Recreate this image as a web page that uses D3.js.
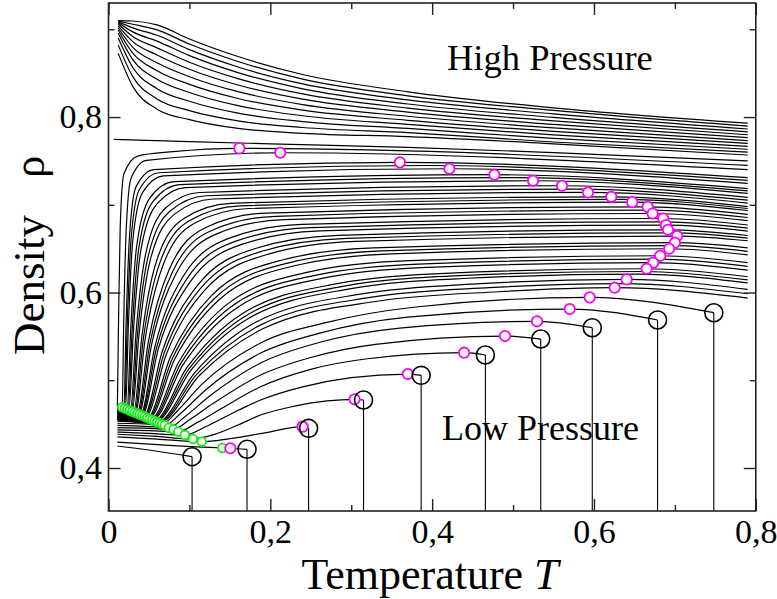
<!DOCTYPE html>
<html>
<head>
<meta charset="utf-8">
<script src="https://cdn.jsdelivr.net/npm/d3@7"></script>
<style>
  body { margin: 0; background: #fff; }
  svg { display: block; font-family: "Liberation Serif", "Times New Roman", serif; }
</style>
</head>
<body>
<svg id="chart" width="777" height="599"></svg>
<script>
//-----------------------------------------------------//
// Data

// Ticks
const xMajorTicks = [0, 0.2, 0.4, 0.6, 0.8];
const xMinorTicks = [0.1, 0.3, 0.5, 0.7];
const yMajorTicks = [0.4, 0.6, 0.8];
const yMinorTicks = [0.5, 0.7, 0.9];
const xTickLabels = ["0", "0,2", "0,4", "0,6", "0,8"];
const yTickLabels = ["0,4", "0,6", "0,8"];

// High pressure isobars: density on a shared temperature grid
const highT = [0.012, 0.03, 0.06, 0.1, 0.16, 0.24, 0.37, 0.55, 0.79];
const highRho = [
  [0.910, 0.9095, 0.905, 0.889, 0.869, 0.8485, 0.8288, 0.8105, 0.793],
  [0.9093, 0.9058, 0.8994, 0.8832, 0.8633, 0.8432, 0.8242, 0.8076, 0.7897],
  [0.9085, 0.9017, 0.8932, 0.8768, 0.8571, 0.8378, 0.8195, 0.8036, 0.7864],
  [0.9075, 0.8971, 0.8865, 0.8700, 0.8507, 0.8322, 0.8149, 0.7996, 0.7831],
  [0.906, 0.8918, 0.8789, 0.8625, 0.8438, 0.8264, 0.8102, 0.7956, 0.7798],
  [0.904, 0.886, 0.8708, 0.8545, 0.8365, 0.8204, 0.8056, 0.7916, 0.7765],
  [0.9015, 0.8795, 0.8619, 0.846, 0.8289, 0.8142, 0.8009, 0.7876, 0.7732],
  [0.899, 0.8729, 0.8529, 0.8373, 0.8212, 0.8079, 0.7963, 0.7836, 0.7699],
  [0.8955, 0.8654, 0.8431, 0.828, 0.813, 0.8015, 0.7916, 0.7796, 0.7666],
  [0.890, 0.8565, 0.8324, 0.818, 0.8045, 0.7949, 0.787, 0.7756, 0.7633],
  [0.882, 0.8461, 0.8207, 0.8074, 0.7957, 0.7881, 0.7823, 0.7716, 0.760],
  [0.8726, 0.835, 0.809, 0.797, 0.787, 0.7815, 0.7777, 0.7695, 0.7567]
];

// The nearly flat isobar
const flatIsobar = [[0.0066, 0.7746], [0.1, 0.772], [0.2, 0.7695], [0.37, 0.7655], [0.55, 0.7595], [0.79, 0.750]];

// Middle isobars: [T, rho] points (start, minimum, rise, maximum, end)
const midIsobars = [
  [[0.011,0.470],[0.0125,0.573],[0.0145,0.676],[0.019,0.735],[0.036,0.7555],[0.08,0.7605],[0.1617,0.7643],[0.79,0.745]],
  [[0.011,0.4702],[0.0169,0.4692],[0.0189,0.5707],[0.0219,0.6723],[0.0279,0.7303],[0.0469,0.7506],[0.2123,0.7593],[0.79,0.740]],
  [[0.011,0.4695],[0.019,0.4684],[0.0218,0.5664],[0.026,0.6644],[0.034,0.7204],[0.056,0.740],[0.3601,0.7484],[0.79,0.731]],
  [[0.011,0.4692],[0.020,0.468],[0.0232,0.5649],[0.028,0.6618],[0.038,0.7171],[0.062,0.7365],[0.3907,0.7448],[0.79,0.7278]],
  [[0.011,0.4688],[0.021,0.4676],[0.0246,0.5633],[0.030,0.6591],[0.042,0.7138],[0.068,0.7329],[0.4213,0.7411],[0.79,0.7245]],
  [[0.011,0.4681],[0.023,0.4668],[0.0276,0.5604],[0.035,0.6541],[0.051,0.7076],[0.081,0.7263],[0.4769,0.7343],[0.79,0.7185]],
  [[0.011,0.4678],[0.0241,0.4664],[0.0293,0.5589],[0.0376,0.6516],[0.0556,0.7045],[0.0881,0.723],[0.5008,0.7309],[0.79,0.7158]],
  [[0.011,0.4674],[0.0251,0.4659],[0.0309,0.5574],[0.0401,0.649],[0.0601,0.7013],[0.0951,0.7196],[0.5247,0.7274],[0.79,0.713]],
  [[0.011,0.4667],[0.0271,0.4651],[0.0341,0.5549],[0.0461,0.6447],[0.0701,0.696],[0.1121,0.714],[0.5605,0.7217],[0.79,0.7085]],
  [[0.011,0.4664],[0.0282,0.4647],[0.0359,0.5533],[0.0492,0.642],[0.0757,0.6926],[0.1207,0.7103],[0.5766,0.7179],[0.79,0.7053]],
  [[0.011,0.466],[0.0292,0.4643],[0.0377,0.5517],[0.0522,0.6392],[0.0812,0.6891],[0.1292,0.7066],[0.5926,0.7141],[0.79,0.702]],
  [[0.011,0.4653],[0.0312,0.4635],[0.0412,0.5495],[0.0592,0.6354],[0.0932,0.6845],[0.1512,0.7017],[0.6214,0.7091],[0.79,0.698]],
  [[0.011,0.465],[0.0322,0.4631],[0.0432,0.5482],[0.0632,0.6332],[0.0998,0.6818],[0.1622,0.6988],[0.6344,0.7061],[0.79,0.6958]],
  [[0.011,0.4646],[0.0333,0.4627],[0.0453,0.5468],[0.0673,0.6309],[0.1063,0.679],[0.1733,0.6958],[0.6473,0.703],[0.79,0.6935]],
  [[0.011,0.4639],[0.0353,0.4618],[0.0493,0.5444],[0.0753,0.6269],[0.1203,0.6741],[0.1953,0.6906],[0.6663,0.6977],[0.79,0.689]],
  [[0.011,0.4636],[0.0364,0.4614],[0.0514,0.5428],[0.0794,0.6242],[0.1274,0.6707],[0.2064,0.6869],[0.6694,0.6939],[0.79,0.6855]],
  [[0.011,0.4632],[0.0374,0.461],[0.0534,0.5412],[0.0834,0.6214],[0.1344,0.6672],[0.2174,0.6832],[0.6725,0.6901],[0.79,0.682]],
  [[0.011,0.4625],[0.0394,0.4602],[0.0574,0.5387],[0.0914,0.6171],[0.1494,0.662],[0.2394,0.6777],[0.6856,0.6844],[0.79,0.677]],
  [[0.011,0.4622],[0.0404,0.4598],[0.0594,0.5371],[0.096,0.6144],[0.1574,0.6586],[0.2504,0.674],[0.6872,0.6806],[0.79,0.6735]],
  [[0.011,0.4618],[0.0415,0.4594],[0.0615,0.5355],[0.1005,0.6116],[0.1655,0.6551],[0.2615,0.6703],[0.6889,0.6768],[0.79,0.670]],
  [[0.011,0.4611],[0.0435,0.4586],[0.0665,0.5331],[0.1095,0.6076],[0.1815,0.6502],[0.2835,0.6651],[0.6914,0.6715],[0.79,0.665]],
  [[0.011,0.4608],[0.0446,0.4582],[0.069,0.5316],[0.114,0.605],[0.1896,0.647],[0.2946,0.6617],[0.6971,0.668],[0.79,0.662]],
  [[0.011,0.4604],[0.0456,0.4577],[0.0716,0.530],[0.1186,0.6024],[0.1976,0.6437],[0.3056,0.6582],[0.7028,0.6644],[0.79,0.659]],
  [[0.011,0.4597],[0.0476,0.4569],[0.0766,0.5269],[0.1276,0.5968],[0.2136,0.6368],[0.3276,0.6508],[0.70,0.6568],[0.79,0.651]],
  [[0.011,0.4594],[0.0486,0.4565],[0.0792,0.5254],[0.1322,0.5943],[0.2216,0.6336],[0.3386,0.6474],[0.6965,0.6534],[0.79,0.647]],
  [[0.011,0.459],[0.0497,0.4561],[0.0817,0.5239],[0.1367,0.5918],[0.2297,0.6305],[0.3497,0.6441],[0.693,0.6499],[0.79,0.643]],
  [[0.011,0.4583],[0.0517,0.4553],[0.0867,0.5206],[0.1457,0.5859],[0.2467,0.6232],[0.3717,0.6363],[0.6819,0.6419],[0.79,0.634]],
  [[0.011,0.458],[0.0528,0.4549],[0.0892,0.519],[0.1502,0.583],[0.2552,0.6196],[0.3828,0.6324],[0.6776,0.638],[0.79,0.6298]],
  [[0.011,0.4576],[0.0538,0.4545],[0.0918,0.5173],[0.1548,0.5802],[0.2638,0.6161],[0.3938,0.6286],[0.6732,0.634],[0.79,0.6255]],
  [[0.011,0.4569],[0.0558,0.4536],[0.0968,0.5143],[0.1638,0.5751],[0.2808,0.6098],[0.4158,0.6219],[0.6651,0.6271],[0.79,0.618]],
  [[0.011,0.4566],[0.0568,0.4532],[0.0994,0.513],[0.1684,0.5728],[0.2894,0.607],[0.4268,0.619],[0.66,0.624],[0.79,0.6145]],
  [[0.011,0.4562],[0.0579,0.4528],[0.1019,0.5117],[0.1729,0.5705],[0.2979,0.6042],[0.4379,0.616],[0.655,0.621],[0.79,0.611]],
  [[0.011,0.4555],[0.0599,0.452],[0.1069,0.5091],[0.1819,0.5661],[0.3149,0.5987],[0.4599,0.6101],[0.6404,0.615],[0.79,0.6035]],
  [[0.011,0.4552],[0.061,0.4516],[0.1094,0.5072],[0.187,0.5626],[0.3234,0.5944],[0.471,0.6055],[0.633,0.6102],[0.79,0.5986]],
  [[0.011,0.4548],[0.062,0.4512],[0.112,0.5052],[0.192,0.5592],[0.332,0.5901],[0.482,0.6009],[0.6256,0.6055],[0.79,0.5937]]
];

// Low pressure isobars, each ends at its spinodal point
const lowIsobars = [
  [[0.011,0.4251],[0.05,0.4205],[0.1033,0.4129]],
  [[0.011,0.4296],[0.07,0.426],[0.1407,0.4228],[0.1506,0.4225],[0.1712,0.4213]],
  [[0.011,0.4355],[0.06,0.433],[0.1152,0.430],[0.15,0.4335],[0.19,0.4395],[0.2399,0.4471],[0.2473,0.4452]],
  [[0.011,0.4385],[0.06,0.436],[0.1043,0.4331],[0.13,0.438],[0.16,0.449],[0.188,0.4604],[0.23,0.4705],[0.27,0.4765],[0.3041,0.4783],[0.3152,0.4775]],
  [[0.011,0.441],[0.05,0.4395],[0.0942,0.4376],[0.12,0.447],[0.15,0.461],[0.188,0.4775],[0.24,0.4925],[0.3,0.503],[0.37,0.5071],[0.3864,0.5056]],
  [[0.011,0.4435],[0.05,0.4425],[0.086,0.4414],[0.11,0.452],[0.14,0.468],[0.188,0.4927],[0.25,0.5125],[0.32,0.5245],[0.4395,0.5314],[0.4658,0.5288]],
  [[0.011,0.446],[0.05,0.4452],[0.0802,0.4441],[0.10,0.455],[0.13,0.474],[0.188,0.506],[0.25,0.526],[0.33,0.541],[0.4901,0.5504],[0.5342,0.547]],
  [[0.011,0.4485],[0.045,0.4475],[0.0744,0.4459],[0.095,0.459],[0.125,0.482],[0.188,0.5197],[0.26,0.543],[0.36,0.5595],[0.5296,0.5672],[0.5979,0.5599]],
  [[0.011,0.451],[0.045,0.4502],[0.0694,0.4488],[0.09,0.463],[0.12,0.489],[0.188,0.531],[0.26,0.5535],[0.37,0.572],[0.57,0.5812],[0.6786,0.5687]],
  [[0.011,0.4535],[0.04,0.452],[0.0663,0.450],[0.085,0.465],[0.115,0.495],[0.188,0.5425],[0.27,0.566],[0.38,0.5835],[0.5947,0.5945],[0.7481,0.577]]
];

// Density maxima (magenta)
const tmdT = [0.1617, 0.2123, 0.3601, 0.4213, 0.4769, 0.5247, 0.5605, 0.5926, 0.6214, 0.6473, 0.6663, 0.6725, 0.6856, 0.6889, 0.6914, 0.7028,
  0.70, 0.693, 0.6819, 0.6732, 0.6651, 0.6404, 0.6256, 0.5947, 0.570, 0.5296, 0.4901, 0.4395, 0.37, 0.3041, 0.2399, 0.1506];
const tmdRho = [0.7643, 0.7593, 0.7484, 0.7411, 0.7343, 0.7274, 0.7217, 0.7141, 0.7091, 0.7030, 0.6977, 0.6901, 0.6844, 0.6768, 0.6715, 0.6644,
  0.6568, 0.6499, 0.6419, 0.6340, 0.6271, 0.6150, 0.6055, 0.5945, 0.5812, 0.5672, 0.5504, 0.5314, 0.5071, 0.4783, 0.4471, 0.4225];

// Density minima (green)
const tminT = [0.0169, 0.0200, 0.0231, 0.0262, 0.0293, 0.0323, 0.0354, 0.0385, 0.0416, 0.0447, 0.0478, 0.0509, 0.0540,
  0.0570, 0.0601, 0.0632, 0.0663, 0.0694, 0.0744, 0.0802, 0.0860, 0.0942, 0.1043, 0.1152, 0.1407];
const tminRho = [0.4692, 0.4679, 0.4668, 0.4655, 0.4644, 0.4632, 0.4620, 0.4608, 0.4597, 0.4585, 0.4572, 0.4560, 0.4548,
  0.4536, 0.4524, 0.4512, 0.4500, 0.4488, 0.4459, 0.4441, 0.4414, 0.4376, 0.4331, 0.4300, 0.4228];

// Spinodal points (black)
const spinT = [0.1033, 0.1712, 0.2473, 0.3152, 0.3864, 0.4658, 0.5342, 0.5979, 0.6786, 0.7481];
const spinRho = [0.4129, 0.4213, 0.4452, 0.4775, 0.5056, 0.5288, 0.547, 0.5599, 0.5687, 0.577];

//-----------------------------------------------------//

const svg = d3.select("#chart");
const x = d3.scaleLinear().domain([0, 0.8]).range([108.5, 755.8]);
const y = d3.scaleLinear().domain([0.351, 0.93]).range([511, 3]);

svg.append("defs").append("clipPath").attr("id", "plot-clip")
  .append("rect")
  .attr("x", x(0)).attr("y", y(0.93))
  .attr("width", x(0.8) - x(0)).attr("height", y(0.351) - y(0.93));

const plot = svg.append("g").attr("clip-path", "url(#plot-clip)");

const line = d3.line()
  .x(d => x(d[0]))
  .y(d => y(d[1]))
  .curve(d3.curveMonotoneX);

// build the isobar list
let isobars = highRho.map(row => row.map((r, i) => [highT[i], r]));
isobars.push(flatIsobar);
isobars = isobars.concat(midIsobars, lowIsobars);

plot.selectAll(".isobar")
  .data(isobars)
  .enter().append("path")
  .attr("class", "isobar")
  .attr("d", line)
  .attr("fill", "none")
  .attr("stroke", "#000")
  .attr("stroke-width", 1.2);

// drops below the spinodal
plot.selectAll(".drop")
  .data(spinT)
  .enter().append("line")
  .attr("class", "drop")
  .attr("x1", d => x(d)).attr("x2", d => x(d))
  .attr("y1", (d, i) => y(spinRho[i]))
  .attr("y2", y(0.351))
  .attr("stroke", "#000")
  .attr("stroke-width", 1.1);

// green minima
plot.selectAll(".tmin")
  .data(tminT)
  .enter().append("circle")
  .attr("class", "tmin")
  .attr("cx", d => x(d))
  .attr("cy", (d, i) => y(tminRho[i]))
  .attr("r", 4.3)
  .attr("fill", "#fff")
  .attr("stroke", "#11ee11")
  .attr("stroke-width", 1.8);

// magenta maxima
plot.selectAll(".tmd")
  .data(tmdT)
  .enter().append("circle")
  .attr("class", "tmd")
  .attr("cx", d => x(d))
  .attr("cy", (d, i) => y(tmdRho[i]))
  .attr("r", 5.2)
  .attr("fill", "#fff")
  .attr("stroke", "#ff00ff")
  .attr("stroke-width", 1.8);

// black spinodal circles
plot.selectAll(".spin")
  .data(spinT)
  .enter().append("circle")
  .attr("class", "spin")
  .attr("cx", d => x(d))
  .attr("cy", (d, i) => y(spinRho[i]))
  .attr("r", 9)
  .attr("fill", "none")
  .attr("stroke", "#000")
  .attr("stroke-width", 1.6);

//-----------------------------------------------------//
// Axes, ticks inward on all four sides

function noDomain(g) { g.select(".domain").remove(); }

svg.append("g").attr("transform", `translate(0,${y(0.351)})`)
  .call(d3.axisBottom(x).tickValues(xMajorTicks).tickSize(-12).tickPadding(8)
    .tickFormat((d, i) => xTickLabels[i]))
  .call(noDomain);
svg.append("g").attr("transform", `translate(0,${y(0.351)})`)
  .call(d3.axisBottom(x).tickValues(xMinorTicks).tickSize(-6).tickFormat(""))
  .call(noDomain);
svg.append("g").attr("transform", `translate(0,${y(0.93)})`)
  .call(d3.axisTop(x).tickValues(xMajorTicks).tickSize(-12).tickFormat(""))
  .call(noDomain);
svg.append("g").attr("transform", `translate(0,${y(0.93)})`)
  .call(d3.axisTop(x).tickValues(xMinorTicks).tickSize(-6).tickFormat(""))
  .call(noDomain);

svg.append("g").attr("transform", `translate(${x(0)},0)`)
  .call(d3.axisLeft(y).tickValues(yMajorTicks).tickSize(-12).tickPadding(6.5)
    .tickFormat((d, i) => yTickLabels[i]))
  .call(noDomain);
svg.append("g").attr("transform", `translate(${x(0)},0)`)
  .call(d3.axisLeft(y).tickValues(yMinorTicks).tickSize(-6).tickFormat(""))
  .call(noDomain);
svg.append("g").attr("transform", `translate(${x(0.8)},0)`)
  .call(d3.axisRight(y).tickValues(yMajorTicks).tickSize(-12).tickFormat(""))
  .call(noDomain);
svg.append("g").attr("transform", `translate(${x(0.8)},0)`)
  .call(d3.axisRight(y).tickValues(yMinorTicks).tickSize(-6).tickFormat(""))
  .call(noDomain);

svg.selectAll(".tick line").attr("stroke", "#222").attr("stroke-width", 1.4);
svg.selectAll(".tick text")
  .attr("font-family", "Liberation Serif, Times New Roman, serif")
  .attr("font-size", 34)
  .attr("fill", "#000");

// frame
svg.append("rect")
  .attr("x", x(0)).attr("y", y(0.93))
  .attr("width", x(0.8) - x(0)).attr("height", y(0.351) - y(0.93))
  .attr("fill", "none")
  .attr("stroke", "#222")
  .attr("stroke-width", 1.6);

//-----------------------------------------------------//
// Titles and labels

const xTitle = svg.append("text")
  .attr("x", 430).attr("y", 589)
  .attr("text-anchor", "middle")
  .attr("font-size", 44);
xTitle.append("tspan").text("Temperature ");
xTitle.append("tspan").attr("font-style", "italic").text("T");

svg.append("text")
  .attr("transform", "translate(43.5,355) rotate(-90)")
  .attr("font-size", 45)
  .text("Density");
svg.append("text")
  .attr("transform", "translate(43.5,178) rotate(-90)")
  .attr("font-size", 45)
  .text("ρ");

svg.append("text")
  .attr("x", 447).attr("y", 70)
  .attr("font-size", 36.5)
  .text("High Pressure");

svg.append("text")
  .attr("x", 442).attr("y", 440)
  .attr("font-size", 36)
  .text("Low Pressure");
</script>
</body>
</html>
